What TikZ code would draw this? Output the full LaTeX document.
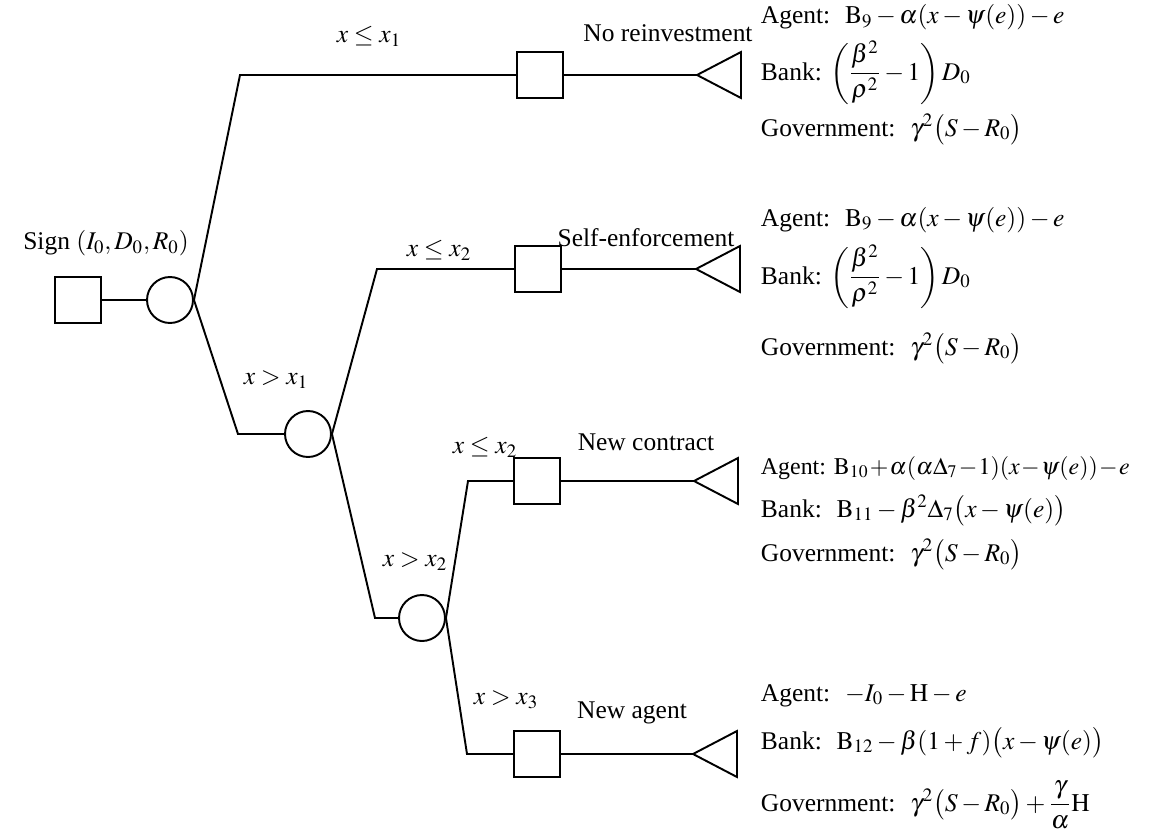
\documentclass[tikz,border=0pt]{standalone}
\usepackage{amsmath}
\usepackage{mathptmx}
\usepackage{fontspec}
\setmainfont{Liberation Serif}
\usepackage{tikz}

\begin{document}
\begin{tikzpicture}[x=0.02cm, y=-0.02cm, line width=1.1pt,
    font=\fontsize{14.5}{17}\selectfont,
    chance/.style={draw, circle, minimum size=0.92cm, inner sep=0pt},
    choice/.style={draw, rectangle, minimum size=0.92cm, inner sep=0pt},
    lbl/.style={inner sep=0pt},
    pay/.style={anchor=base west, inner sep=0pt}]
    \useasboundingbox (0,0) rectangle (1151,838);

    % Chance and decision nodes
    \node[choice] (s0) at (78,300) {};
    \node[chance] (c1) at (170,300) {};
    \node[chance] (c2) at (308,434) {};
    \node[chance] (c3) at (422,618) {};
    \node[choice] (d1) at (540,75) {};
    \node[choice] (d2) at (538,269) {};
    \node[choice] (d3) at (537,481) {};
    \node[choice] (d4) at (537,754) {};

    % Bends and leaf tips
    \coordinate (k1) at (240,75);
    \coordinate (k2) at (238,434);
    \coordinate (k3) at (377,269);
    \coordinate (k4) at (375,618);
    \coordinate (k5) at (468,481);
    \coordinate (k6) at (467,754);
    \coordinate (t1) at (697,75);
    \coordinate (t2) at (696,269);
    \coordinate (t3) at (694,481);
    \coordinate (t4) at (693,754);

    % Branches
    \draw (s0) -- (c1);
    \draw (c1.east) -- (k1) -- (d1) -- (t1);
    \draw (c1.east) -- (k2) -- (c2);
    \draw (c2.east) -- (k3) -- (d2) -- (t2);
    \draw (c2.east) -- (k4) -- (c3);
    \draw (c3.east) -- (k5) -- (d3) -- (t3);
    \draw (c3.east) -- (k6) -- (d4) -- (t4);
    \foreach \t in {t1,t2,t3,t4}
        \draw (\t) -- ++(44,-23) -- ++(0,46) -- cycle;

    % Branch labels
    \node[lbl] (sign) at (106,243) {Sign $(I_0,D_0,R_0)$};
    \node[lbl] (b1) at (369,36) {$x\le x_1$};
    \node[lbl] (b2) at (276,380) {$x> x_1$};
    \node[lbl] (b3) at (439,250) {$x\le x_2$};
    \node[lbl] (b4) at (485,447) {$x\le x_2$};
    \node[lbl] (b5) at (415,562) {$x> x_2$};
    \node[lbl] (b6) at (506,700) {$x> x_3$};
    \node[lbl] (o1) at (668,33) {No reinvestment};
    \node[lbl] (o2) at (646,238) {Self-enforcement};
    \node[lbl] (o3) at (646,442) {New contract};
    \node[lbl] (o4) at (632,713) {New agent};

    % Payoffs
    \node[pay] (ag1) at (760,24) {Agent:~ $\mathrm{B}_9-\alpha(x-\psi(e))-e$};
    \node[pay] (bk1) at (760,80) {Bank: $\left(\dfrac{\beta^2}{\rho^2}-1\right)D_0$};
    \node[pay] (gv1) at (760,136) {Government:~ $\gamma^2\bigl(S-R_0\bigr)$};

    \node[pay] (ag2) at (760,226) {Agent:~ $\mathrm{B}_9-\alpha(x-\psi(e))-e$};
    \node[pay] (bk2) at (760,284) {Bank: $\left(\dfrac{\beta^2}{\rho^2}-1\right)D_0$};
    \node[pay] (gv2) at (760,355) {Government:~ $\gamma^2\bigl(S-R_0\bigr)$};

    \node[pay, font=\fontsize{13.6}{16}\selectfont] (ag3) at (760,474)
        {\medmuskip=1mu Agent: $\mathrm{B}_{10}+\alpha(\alpha\Delta_7-1)(x-\psi(e))-e$};
    \node[pay] (bk3) at (760,517) {Bank:~ $\mathrm{B}_{11}-\beta^2\Delta_7\bigl(x-\psi(e)\bigr)$};
    \node[pay] (gv3) at (760,561) {Government:~ $\gamma^2\bigl(S-R_0\bigr)$};

    \node[pay] (ag4) at (760,701) {Agent:~ $-I_0-\mathrm{H}-e$};
    \node[pay] (bk4) at (760,749) {Bank:~ $\mathrm{B}_{12}-\beta(1+f)\bigl(x-\psi(e)\bigr)$};
    \node[pay] (gv4) at (760,811) {Government:~ $\gamma^2\bigl(S-R_0\bigr)+\dfrac{\gamma}{\alpha}\mathrm{H}$};
\end{tikzpicture}
\end{document}
